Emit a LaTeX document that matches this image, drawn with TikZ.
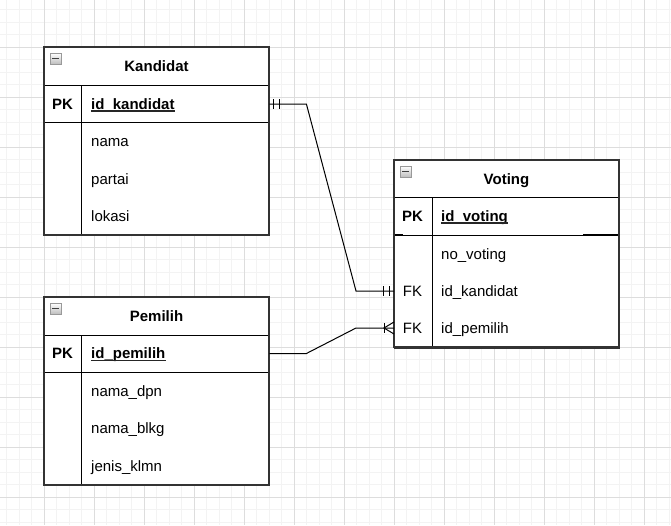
\documentclass[tikz,border=0pt]{standalone}
\usepackage{fontspec}
\setmainfont{Liberation Sans}
\usetikzlibrary{calc}
\definecolor{gridminor}{HTML}{F3F3F3}
\definecolor{gridmajor}{HTML}{DDDDDD}
\definecolor{framec}{HTML}{333333}
\begin{document}
\begin{tikzpicture}[x=1pt,y=-1pt,
  minorl/.style={draw=gridminor, line width=1pt},
  majorl/.style={draw=gridmajor, line width=1pt},
  frame/.style={draw=framec, line width=1.3pt, fill=none, anchor=north west, minimum width=225pt, minimum height=188pt, inner sep=0pt},
  div/.style={draw=black, line width=1pt},
  rowbox/.style={anchor=west, minimum width=225pt, minimum height=37.5pt, inner sep=0pt},
  title/.style={anchor=base, font=\fontsize{15}{18}\selectfont\bfseries, inner sep=0pt},
  pk/.style={anchor=base, font=\fontsize{15}{18}\selectfont\bfseries, inner sep=0pt},
  fk/.style={anchor=base, font=\fontsize{15}{18}\selectfont, inner sep=0pt},
  keyf/.style={anchor=base west, font=\fontsize{15}{18}\selectfont\bfseries, inner sep=0pt},
  fld/.style={anchor=base west, font=\fontsize{15}{18}\selectfont, inner sep=0pt},
  uline/.style={draw=black!85, line width=1.2pt},
  icon/.style={draw=gray!80, top color=white, bottom color=gray!50, minimum size=10.5pt, inner sep=0pt},
  minus/.style={draw=black!75, line width=1.5pt},
  conn/.style={draw=black, line width=1pt}]
\useasboundingbox (0,0) rectangle (671,525);
\fill[white] (0,0) rectangle (671,525);
% grid
\foreach \k in {-3,...,50} \draw[minorl] (44.3+12.5*\k,0) -- (44.3+12.5*\k,525);
\foreach \k in {-3,...,38} \draw[minorl] (0,47.3+12.5*\k) -- (671,47.3+12.5*\k);
\foreach \k in {0,...,12} \draw[majorl] (44.3+50*\k,0) -- (44.3+50*\k,525);
\foreach \k in {0,...,9} \draw[majorl] (0,47.3+50*\k) -- (671,47.3+50*\k);

% ---------- Kandidat ----------
\node[frame, fill=white] (kand) at (44,47) {};
\draw[div] (44,85) -- (269,85);
\draw[div] (44,122) -- (269,122);
\draw[div] (81,85) -- (81,235);
\node[icon] (kicon) at (55.5,58.5) {};
\draw[minus] (52,58.5) -- (59,58.5);
\node[title] (ktitle) at (156.5,71.7) {Kandidat};
\node[rowbox] (kpkrow) at (44,104) {};
\node[pk] (kpk) at (62.5,109.3) {PK};
\node[keyf] (kid) at (91,109.3) {id\_kandidat};
\draw[uline] ($(kid.base west)+(0,1.6)$) -- ($(kid.base east)+(0,1.6)$);
\node[fld] (knama) at (91,146.8) {nama};
\node[fld] (kpartai) at (91,184.3) {partai};
\node[fld] (klokasi) at (91,221.8) {lokasi};
\draw[draw=framec, line width=1.3pt] (44,47) rectangle (269,235);

% ---------- Pemilih ----------
\node[frame, fill=white] (pem) at (44,297) {};
\draw[div] (44,335) -- (269,335);
\draw[div] (44,372) -- (269,372);
\draw[div] (81,335) -- (81,485);
\node[icon] (picon) at (55.5,308.5) {};
\draw[minus] (52,308.5) -- (59,308.5);
\node[title] (ptitle) at (156.5,321.7) {Pemilih};
\node[rowbox] (ppkrow) at (44,353.5) {};
\node[pk] (ppk) at (62.5,358.8) {PK};
\node[keyf] (pid) at (91,358.8) {id\_pemilih};
\draw[uline] ($(pid.base west)+(0,1.6)$) -- ($(pid.base east)+(0,1.6)$);
\node[fld] (pnd) at (91,396.3) {nama\_dpn};
\node[fld] (pnb) at (91,433.8) {nama\_blkg};
\node[fld] (pjk) at (91,471.3) {jenis\_klmn};
\draw[draw=framec, line width=1.3pt] (44,297) rectangle (269,485);

% ---------- Voting ----------
\node[frame, fill=white] (vot) at (394,160) {};
\draw[div] (394,197) -- (619,197);
\draw[div] (394,235) -- (619,235);
\draw[div, line width=1.8pt] (394,235) -- (403,235);
\draw[div, line width=1.8pt] (583,235) -- (619,235);
\draw[div] (432,197) -- (432,347);
\node[icon] (vicon) at (405.5,171.5) {};
\draw[minus] (402,171.5) -- (409,171.5);
\node[title] (vtitle) at (506.5,184.2) {Voting};
\node[pk] (vpk) at (412.5,221.3) {PK};
\node[keyf] (vid) at (441,221.3) {id\_voting};
\draw[uline] ($(vid.base west)+(0,1.6)$) -- ($(vid.base east)+(0,1.6)$);
\node[fld] (vno) at (441,259.3) {no\_voting};
\node[rowbox] (vfk1) at (394,291) {};
\node[fk] (vfk1l) at (412.5,296.3) {FK};
\node[fld] (vkid) at (441,296.3) {id\_kandidat};
\node[rowbox] (vfk2) at (394,328) {};
\node[fk] (vfk2l) at (412.5,333.3) {FK};
\node[fld] (vpid) at (441,333.3) {id\_pemilih};
\draw[draw=framec, line width=1.3pt] (394,160) rectangle (619,347);

% ---------- connectors ----------
\draw[conn] (kpkrow.east) -- ++(37,0) -- ($(vfk1.west)+(-38,0)$) -- (vfk1.west);
\draw[conn] ($(kpkrow.east)+(4,-5)$) -- ++(0,10);
\draw[conn] ($(kpkrow.east)+(10,-5)$) -- ++(0,10);
\draw[conn] ($(vfk1.west)+(-11,-5)$) -- ++(0,10);
\draw[conn] ($(vfk1.west)+(-5,-5)$) -- ++(0,10);

\draw[conn] (ppkrow.east) -- ++(37,0) -- ($(vfk2.west)+(-38,0)$) -- (vfk2.west);
\draw[conn] ($(vfk2.west)+(-10,-5)$) -- ++(0,10);
\draw[conn] ($(vfk2.west)+(0,-6)$) -- ($(vfk2.west)+(-10,0)$) -- ($(vfk2.west)+(0,6)$);
\end{tikzpicture}
\end{document}
